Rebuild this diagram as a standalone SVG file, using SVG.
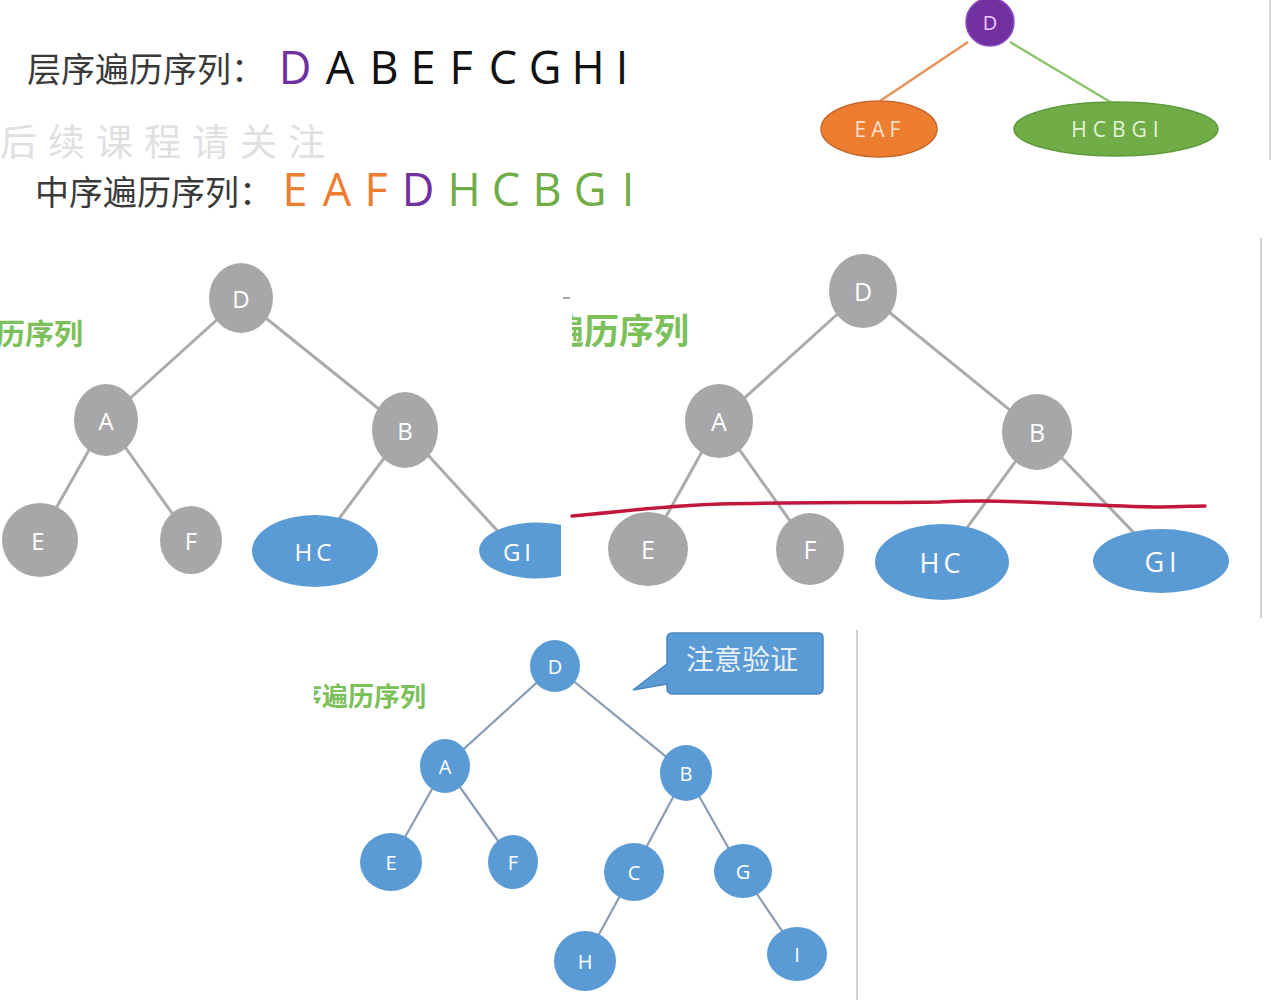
<svg xmlns="http://www.w3.org/2000/svg" width="1274" height="1000" viewBox="0 0 1274 1000">
<defs>
<style>
.cn{font-family:"Noto Sans CJK SC","Noto Sans",sans-serif}
.lat{font-family:"Open Sans","Noto Sans",sans-serif}
.gray{fill:#a7a7a9}
.blue{fill:#5b9bd5}
.lbl{font-family:"Open Sans","Noto Sans",sans-serif;fill:#fff;text-anchor:middle;dominant-baseline:central}
.e1{stroke:#ababab;stroke-width:3;fill:none}
.e2{stroke:#8a9cb3;stroke-width:2.2;fill:none}
</style>
</defs>
<rect width="1274" height="1000" fill="#fff"/>

<!-- watermark -->
<text class="cn" x="0" y="156" font-size="37" fill="#e0e0e0" letter-spacing="11">后续课程请关注</text>

<!-- sequences -->
<g id="seq1">
<text class="cn" x="27" y="82" font-size="34" fill="#3a3a3a">层序遍历序列：</text>
<g class="lat" font-size="45" text-anchor="middle">
<text x="295" y="84" fill="#7030a0">D</text>
<text x="340" y="84" fill="#111">A</text>
<text x="384" y="84" fill="#111">B</text>
<text x="423" y="84" fill="#111">E</text>
<text x="461" y="84" fill="#111">F</text>
<text x="503" y="84" fill="#111">C</text>
<text x="545" y="84" fill="#111">G</text>
<text x="588" y="84" fill="#111">H</text>
<text x="622" y="84" fill="#111">I</text>
</g>
</g>
<g id="seq2">
<text class="cn" x="35" y="205" font-size="34" fill="#3a3a3a">中序遍历序列：</text>
<g class="lat" font-size="45" text-anchor="middle">
<text x="295" y="206" fill="#ed7d31">E</text>
<text x="337" y="206" fill="#ed7d31">A</text>
<text x="376" y="206" fill="#ed7d31">F</text>
<text x="418" y="206" fill="#7030a0">D</text>
<text x="464" y="206" fill="#70ad47">H</text>
<text x="506" y="206" fill="#70ad47">C</text>
<text x="547" y="206" fill="#70ad47">B</text>
<text x="590" y="206" fill="#70ad47">G</text>
<text x="628" y="206" fill="#70ad47">I</text>
</g>
</g>

<!-- panel borders -->
<line x1="1270" y1="0" x2="1270" y2="160" stroke="#d8d8d8" stroke-width="2"/>
<line x1="1261" y1="238" x2="1261" y2="618" stroke="#cfcfcf" stroke-width="2"/>
<line x1="857" y1="630" x2="857" y2="1000" stroke="#cfcfcf" stroke-width="2"/>

<!-- connectors -->
<g id="connectors">
<line x1="968" y1="42" x2="880" y2="101" stroke="#e8935a" stroke-width="2.5"/>
<line x1="1010" y1="42" x2="1112" y2="103" stroke="#8cc36b" stroke-width="2.5"/>

<g class="e1">
<line x1="241" y1="298" x2="106" y2="420"/>
<line x1="241" y1="298" x2="405" y2="430"/>
<line x1="106" y1="420" x2="38" y2="540"/>
<line x1="106" y1="420" x2="191" y2="540"/>
<line x1="405" y1="430" x2="315" y2="551"/>
<line x1="405" y1="430" x2="515" y2="550"/>
</g>
<g class="e1">
<line x1="863" y1="291" x2="719" y2="421"/>
<line x1="863" y1="291" x2="1037" y2="432"/>
<line x1="719" y1="421" x2="648" y2="549"/>
<line x1="719" y1="421" x2="810" y2="549"/>
<line x1="1037" y1="432" x2="942" y2="562"/>
<line x1="1037" y1="432" x2="1161" y2="561"/>
</g>
<g class="e2">
<line x1="555" y1="666" x2="445" y2="766"/>
<line x1="555" y1="666" x2="686" y2="773"/>
<line x1="445" y1="766" x2="391" y2="862"/>
<line x1="445" y1="766" x2="513" y2="862"/>
<line x1="686" y1="773" x2="633" y2="872"/>
<line x1="686" y1="773" x2="742" y2="872"/>
<line x1="633" y1="872" x2="585" y2="960"/>
<line x1="742" y1="872" x2="797" y2="953"/>
</g>
</g>

<!-- top-right tree -->
<g id="t0-D"><circle cx="990" cy="22" r="24" fill="#7030a0" stroke="#8e4cc0" stroke-width="1.5"/><text class="lbl" x="990" y="22" font-size="20" style="fill:#f0c8ff">D</text></g>
<g id="t0-EAF"><ellipse cx="879" cy="129" rx="58" ry="28" fill="#ed7d31" stroke="#c8692a" stroke-width="1.5"/><text class="lbl" x="880" y="129" font-size="21" letter-spacing="5" style="fill:#fbe0cc">EAF</text></g>
<g id="t0-HCBGI"><ellipse cx="1116" cy="129" rx="102" ry="27" fill="#70ad47" stroke="#5e9a3c" stroke-width="1.5"/><text class="lbl" x="1118" y="129" font-size="21" letter-spacing="6" style="fill:#e3f3d8">HCBGI</text></g>

<!-- middle-left tree -->
<text class="cn" x="-4" y="345" font-size="29" font-weight="bold" fill="#7cc05a">历序列</text>
<g id="t1-D"><ellipse class="gray" cx="241" cy="298" rx="32" ry="35"/><text class="lbl" x="241" y="298" font-size="24">D</text></g>
<g id="t1-A"><ellipse class="gray" cx="106" cy="420" rx="32" ry="36"/><text class="lbl" x="106" y="420" font-size="24">A</text></g>
<g id="t1-B"><ellipse class="gray" cx="405" cy="430" rx="33" ry="38"/><text class="lbl" x="405" y="430" font-size="24">B</text></g>
<g id="t1-E"><ellipse class="gray" cx="40" cy="540" rx="38" ry="37"/><text class="lbl" x="38" y="540" font-size="24">E</text></g>
<g id="t1-F"><ellipse class="gray" cx="191" cy="540" rx="31" ry="34"/><text class="lbl" x="191" y="540" font-size="24">F</text></g>
<g id="t1-HC"><ellipse class="blue" cx="315" cy="551" rx="63" ry="36"/><text class="lbl" x="315" y="551" font-size="24" letter-spacing="4">HC</text></g>
<g id="t1-GI"><path class="blue" d="M561 525 A58 28 0 1 0 561 576 Z"/><text class="lbl" x="519" y="551" font-size="24" letter-spacing="4">GI</text></g>

<!-- middle-right tree -->
<text class="cn" x="549" y="344" font-size="35" font-weight="bold" fill="#7cc05a">遍历序列</text>
<rect x="530" y="300" width="42" height="55" fill="#fff"/>
<line x1="563" y1="298" x2="570" y2="298" stroke="#888" stroke-width="1.5"/>
<g id="t2-D"><ellipse class="gray" cx="863" cy="291" rx="34" ry="37"/><text class="lbl" x="863" y="291" font-size="25">D</text></g>
<g id="t2-A"><ellipse class="gray" cx="719" cy="421" rx="34" ry="37"/><text class="lbl" x="719" y="421" font-size="25">A</text></g>
<g id="t2-B"><ellipse class="gray" cx="1037" cy="432" rx="35" ry="38"/><text class="lbl" x="1037" y="432" font-size="25">B</text></g>
<g id="t2-E"><ellipse class="gray" cx="648" cy="549" rx="40" ry="37"/><text class="lbl" x="648" y="549" font-size="25">E</text></g>
<g id="t2-F"><ellipse class="gray" cx="810" cy="549" rx="34" ry="36"/><text class="lbl" x="810" y="549" font-size="25">F</text></g>
<g id="t2-HC"><ellipse class="blue" cx="942" cy="562" rx="67" ry="38"/><text class="lbl" x="942" y="562" font-size="27" letter-spacing="4">HC</text></g>
<g id="t2-GI"><ellipse class="blue" cx="1161" cy="561" rx="68" ry="32"/><text class="lbl" x="1163" y="561" font-size="27" letter-spacing="5">GI</text></g>
<path d="M572 516 C620 512 660 506 720 504 C800 502 880 503 940 502 C980 500 1010 501 1050 503 C1100 505 1130 507 1160 507 C1180 507 1195 506 1205 506" fill="none" stroke="#c0183c" stroke-width="3.5" stroke-linecap="round"/>

<!-- bottom tree -->
<text class="cn" x="296" y="706" font-size="26" font-weight="bold" fill="#7cc05a">序遍历序列</text>
<rect x="290" y="678" width="24" height="36" fill="#fff"/>
<g id="t3-D"><ellipse class="blue" cx="555" cy="666" rx="25" ry="26"/><text class="lbl" x="555" y="666" font-size="20">D</text></g>
<g id="t3-A"><ellipse class="blue" cx="445" cy="766" rx="25" ry="27"/><text class="lbl" x="445" y="766" font-size="20">A</text></g>
<g id="t3-B"><ellipse class="blue" cx="686" cy="773" rx="26" ry="28"/><text class="lbl" x="686" y="773" font-size="20">B</text></g>
<g id="t3-E"><ellipse class="blue" cx="391" cy="862" rx="31" ry="29"/><text class="lbl" x="391" y="862" font-size="20">E</text></g>
<g id="t3-F"><ellipse class="blue" cx="513" cy="862" rx="25" ry="27"/><text class="lbl" x="513" y="862" font-size="20">F</text></g>
<g id="t3-C"><ellipse class="blue" cx="634" cy="872" rx="30" ry="29"/><text class="lbl" x="634" y="872" font-size="20">C</text></g>
<g id="t3-G"><ellipse class="blue" cx="743" cy="871" rx="29" ry="27"/><text class="lbl" x="743" y="871" font-size="20">G</text></g>
<g id="t3-H"><ellipse class="blue" cx="585" cy="961" rx="31" ry="30"/><text class="lbl" x="585" y="961" font-size="20">H</text></g>
<g id="t3-I"><ellipse class="blue" cx="797" cy="954" rx="30" ry="27"/><text class="lbl" x="797" y="954" font-size="20">I</text></g>

<!-- callout -->
<g id="callout">
<path d="M673 633 H818 Q823 633 823 638 V688 Q823 694 817 694 H673 Q667 694 667 688 V684 L633 690 L667 664 V638 Q667 633 673 633 Z" fill="#5b9bd5" stroke="#4a86bd" stroke-width="1.5"/>
<text class="cn" x="742" y="658" font-size="28" fill="#e8f1fa" text-anchor="middle" dominant-baseline="central">注意验证</text>
</g>
</svg>
